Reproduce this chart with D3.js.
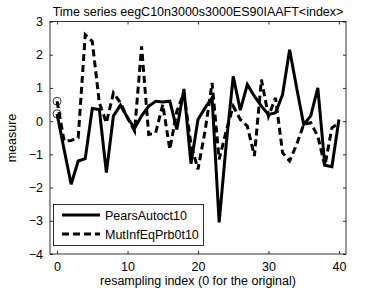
<!DOCTYPE html>
<html lang="en">
<head>
    <meta charset="UTF-8">
    <title>Time series eegC10n3000s3000ES90IAAFT</title>
    <style>
        body { margin: 0; background: #fff; }
        svg text {
          font-family: "Liberation Sans", Arial, sans-serif;
          font-size: 12.5px;
          fill: #000;
        }
        .axis path, .axis line { stroke: #000; stroke-width: 0.8px; }
        .series { fill: none; stroke: #000; stroke-width: 3px; stroke-linejoin: miter; }
    </style>
</head>
<body>
    <svg width="382" height="288"></svg>
    <script src="https://d3js.org/d3.v7.min.js"></script>
    <script>
        // resampling index 0 is the original series
        const pearsAutoct10 = [
            0.22, -0.85, -1.9, -1.2, -1.13, 0.38, 0.35, -1.55, 0.16, 0.48,
            0.1, -0.22, 0.16, 0.45, 0.6, 0.58, 0.6, -0.25, 0.97, -1.28,
            0.05, 0.4, 0.7, -3.05, -0.7, 1.35, 0.33, 1.1, 0.75, 0.45,
            0.2, 0.25, 0.8, 2.15, 1.0, -0.1, 0.16, 1.0, -1.33, -1.37, 0.05
        ];
        const mutInfEqPrb0t10 = [
            0.6, -0.6, -0.58, -0.5, 2.6, 2.4, 0.55, -0.05, 0.85, 0.55,
            0.1, -0.3, 2.25, -0.4, -0.35, 0.5, -0.85, 0.3, 0.85, -0.7,
            -1.45, -0.3, 1.15, -1.15, -0.3, 0.45, 0.05, -0.15, -1.05, 1.25,
            0.15, 0.7, -0.95, -1.2, -0.7, -0.1, -0.05, -0.45, -1.35, -0.2, -0.05
        ];
        const seriesNames = ["PearsAutoct10", "MutInfEqPrb0t10"];
        const xTicks = [0, 10, 20, 30, 40];
        const yTicks = [-4, -3, -2, -1, 0, 1, 2, 3];

        const svg = d3.select("svg");
        const mLeft = 50, mRight = 346, mTop = 21.5, mBottom = 254;

        const x = d3.scaleLinear().domain([-1, 41]).range([mLeft, mRight]);
        const y = d3.scaleLinear().domain([-4, 3]).range([mBottom, mTop]);

        // box
        svg.append("rect")
            .attr("x", mLeft).attr("y", mTop)
            .attr("width", mRight - mLeft).attr("height", mBottom - mTop)
            .attr("fill", "none").attr("stroke", "#000").attr("stroke-width", 0.8);

        // inward ticks on all four sides
        svg.append("g").attr("class", "axis")
            .attr("transform", "translate(0," + mBottom + ")")
            .call(d3.axisBottom(x).tickValues(xTicks).tickSizeInner(-3).tickSizeOuter(0).tickPadding(8))
            .call(g => g.select(".domain").remove());
        svg.append("g").attr("class", "axis")
            .attr("transform", "translate(0," + mTop + ")")
            .call(d3.axisTop(x).tickValues(xTicks).tickSizeInner(-3).tickSizeOuter(0).tickFormat(""))
            .call(g => g.select(".domain").remove());
        svg.append("g").attr("class", "axis")
            .attr("transform", "translate(" + mLeft + ",0)")
            .call(d3.axisLeft(y).tickValues(yTicks).tickSizeInner(-3).tickSizeOuter(0).tickPadding(7)
                .tickFormat(d => d < 0 ? "\u2212" + Math.abs(d) : d))
            .call(g => g.select(".domain").remove());
        svg.append("g").attr("class", "axis")
            .attr("transform", "translate(" + mRight + ",0)")
            .call(d3.axisRight(y).tickValues(yTicks).tickSizeInner(-3).tickSizeOuter(0).tickFormat(""))
            .call(g => g.select(".domain").remove());
        svg.selectAll(".axis text").style("font-size", "12.5px").attr("fill", "#000");

        const line = d3.line().x((d, i) => x(i)).y(d => y(d));

        svg.append("path").datum(pearsAutoct10)
            .attr("class", "series").attr("d", line);
        svg.append("path").datum(mutInfEqPrb0t10)
            .attr("class", "series").attr("stroke-dasharray", "7,4").attr("d", line);

        // circles mark the original (index 0)
        svg.selectAll("circle.orig")
            .data([pearsAutoct10[0], mutInfEqPrb0t10[0]])
            .enter().append("circle")
            .attr("cx", x(0)).attr("cy", d => y(d)).attr("r", 4)
            .attr("fill", "none").attr("stroke", "#000").attr("stroke-width", 0.8);

        // legend
        const lg = svg.append("g");
        lg.append("rect").attr("x", 53.5).attr("y", 204.5).attr("width", 150).attr("height", 41)
            .attr("fill", "#fff").attr("stroke", "#000").attr("stroke-width", 0.8);
        seriesNames.forEach((name, i) => {
            const ly = 215 + i * 19;
            lg.append("line").attr("x1", 62).attr("x2", 100).attr("y1", ly).attr("y2", ly)
                .attr("stroke", "#000").attr("stroke-width", 3)
                .attr("stroke-dasharray", i === 1 ? "7,4" : null);
            lg.append("text").attr("x", 105).attr("y", ly + 4.5).text(name);
        });

        svg.append("text").attr("x", 198).attr("y", 16).attr("text-anchor", "middle")
            .text("Time series eegC10n3000s3000ES90IAAFT<index>");
        svg.append("text").attr("x", 198).attr("y", 285).attr("text-anchor", "middle")
            .text("resampling index (0 for the original)");
        svg.append("text").attr("transform", "translate(16,138) rotate(-90)")
            .attr("text-anchor", "middle").text("measure");
    </script>
</body>
</html>
